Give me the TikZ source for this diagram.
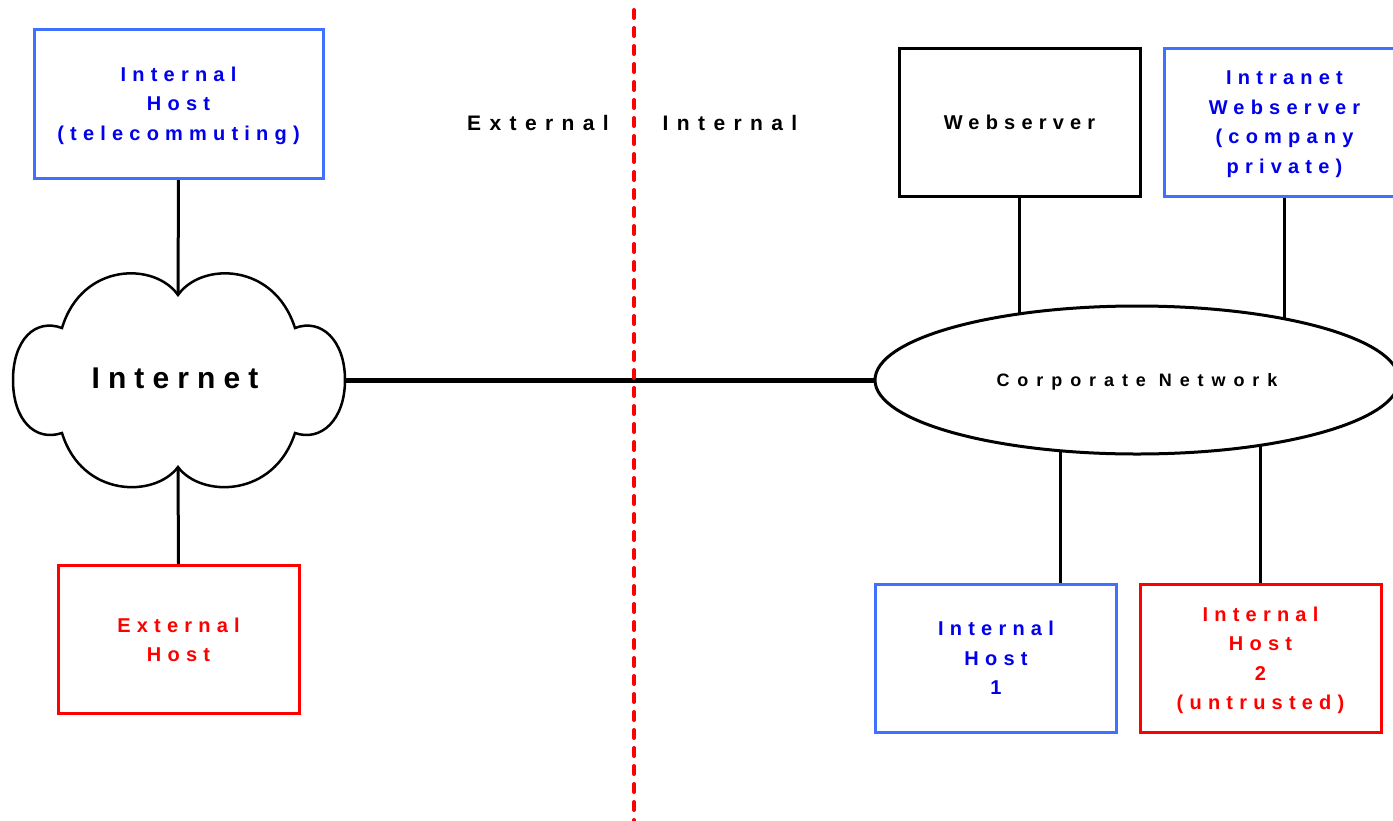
\documentclass[tikz,border=0pt]{standalone}
\usepackage{fontspec}
\setmainfont{Liberation Sans}
\usetikzlibrary{shapes.geometric,backgrounds}
\definecolor{boxblue}{RGB}{64,112,255}
\definecolor{txtblue}{RGB}{0,0,235}
\definecolor{netred}{RGB}{255,0,0}
% bold, widely tracked sans text of a given size and tracking
\newcommand{\tracked}[2]{\fontsize{#1}{29.5}\selectfont\bfseries\addfontfeatures{LetterSpace=#2}}

\begin{document}
\begin{tikzpicture}[x=1pt,y=-1pt,
  hostbox/.style={draw, line width=3pt, minimum width=241pt, minimum height=148pt,
    inner sep=0pt, align=center, text depth=-2pt, font=\tracked{20}{31}},
  trusted/.style={hostbox, draw=boxblue, text=txtblue},
  untrusted/.style={hostbox, draw=netred, text=netred},
  server/.style={hostbox, draw=black, text=black},
  link/.style={line width=3pt, draw=black},
  trunk/.style={line width=5pt, draw=black},
  zonelabel/.style={font=\tracked{21}{40}, inner sep=0pt},
  boundary/.style={draw=netred, line width=4pt, line cap=round, dash pattern=on 8pt off 10pt}]

\clip (0,0) rectangle (1393,820);

% hosts and servers
\node[trusted, minimum width=289pt, minimum height=149pt] (tele) at (178.5,103.5)
  {Internal\\Host\\(telecommuting)};
\node[untrusted] (exthost) at (178.5,639.5) {External\\Host};
\node[server] (web) at (1019.5,122) {Webserver};
\node[trusted] (intranet) at (1284.5,122) {Intranet\\Webserver\\(company\\private)};
\node[trusted] (host1) at (996,658) {Internal\\Host\\1};
\node[untrusted] (host2) at (1260.5,658) {Internal\\Host\\2\\(untrusted)};

% corporate network
\node[ellipse, draw, fill=white, line width=3pt, minimum width=524pt, minimum height=148pt,
  inner sep=0pt, text depth=-2pt, font=\tracked{18}{44}] (corp) at (1137,380) {Corporate Network};

% the Internet cloud
\coordinate (ctop) at (178,295);
\coordinate (cbot) at (178,467);
\coordinate (ceast) at (345,380);
\draw[line width=2.5pt, fill=white]
  (ctop) .. controls (155,262) and (82,262) .. (62,328)
  .. controls (35,318) and (13,340) .. (13,380)
  .. controls (13,420) and (35,442) .. (62,433)
  .. controls (82,498) and (155,498) .. (cbot)
  .. controls (201,498) and (274,498) .. (295,433)
  .. controls (321,442) and (345,420) .. (ceast)
  .. controls (345,340) and (321,318) .. (295,328)
  .. controls (274,262) and (201,262) .. (ctop) -- cycle;
\node[font=\tracked{30}{27}, inner sep=0pt] (inet) at (175,378) {Internet};

% connectors
\begin{scope}[on background layer]
  \draw[link] (tele.south) -- (ctop);
  \draw[link] (exthost.north) -- (cbot);
  \draw[link] (web.south) -- (web.south |- corp.center);
  \draw[link] (intranet.south) -- (intranet.south |- corp.center);
  \draw[link] ([xshift=64.5pt]host1.north) -- ([xshift=64.5pt]host1.north |- corp.center);
  \draw[link] (host2.north) -- (host2.north |- corp.center);
\end{scope}
\draw[trunk] (ceast) -- (corp.west);

% zone boundary
\node[zonelabel] (extlabel) at (538,123) {External};
\node[zonelabel] (intlabel) at (730,123) {Internal};
\coordinate (btop) at (634,10);
\coordinate (bbot) at (634,822);
\draw[boundary] (btop) -- (bbot);
\end{tikzpicture}
\end{document}
